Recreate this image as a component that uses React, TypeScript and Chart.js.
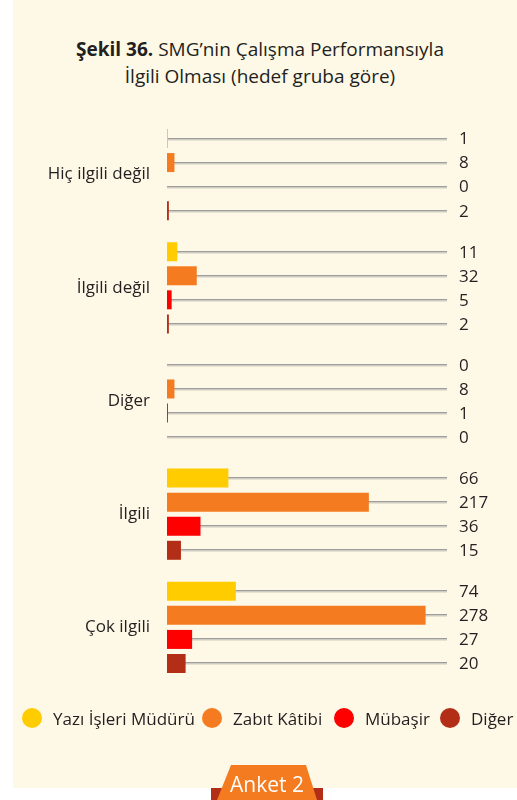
import React, { useEffect, useRef } from "react";
import { Chart, registerables } from "chart.js";

Chart.register(...registerables);

const categories = ["Hiç ilgili değil", "İlgili değil", "Diğer", "İlgili", "Çok ilgili"];
const seriesNames = ["Yazı İşleri Müdürü", "Zabıt Kâtibi", "Mübaşir", "Diğer"];
const yaziIsleri = [1, 11, 0, 66, 74];
const zabitKatibi = [8, 32, 8, 217, 278];
const mubasir = [0, 5, 1, 36, 27];
const diger = [2, 2, 0, 15, 20];
const seriesColors = ["#FFCC00", "#F47B20", "#FF0000", "#B22E17"];
const xMax = 301;

const FONT = "'Open Sans', sans-serif";
const TEXT = "#231F20";

const linesPlugin = {
  id: "guideLines",
  beforeDatasetsDraw(chart: any) {
    const ctx = chart.ctx;
    const xs = chart.scales.x;
    const x0 = xs.getPixelForValue(0);
    const x1 = 447;
    ctx.save();
    chart.data.datasets.forEach((_: any, di: number) => {
      const meta = chart.getDatasetMeta(di);
      meta.data.forEach((el: any) => {
        const y = Math.round(el.y);
        ctx.fillStyle = "#9E9E9E";
        ctx.fillRect(x0, y - 1, x1 - x0, 1.5);
        ctx.fillStyle = "#CFCBC0";
        ctx.fillRect(x0, y + 0.5, x1 - x0, 1);
      });
    });
    ctx.restore();
  },
  afterDatasetsDraw(chart: any) {
    const ctx = chart.ctx;
    ctx.save();
    ctx.font = `17px ${FONT}`;
    ctx.fillStyle = TEXT;
    ctx.textAlign = "left";
    ctx.textBaseline = "middle";
    chart.data.datasets.forEach((ds: any, di: number) => {
      const meta = chart.getDatasetMeta(di);
      meta.data.forEach((el: any, i: number) => {
        ctx.fillText(String(ds.data[i]), 459, el.y + 1);
      });
    });
    ctx.restore();
  },
};

export default function App() {
  const ref = useRef<HTMLCanvasElement>(null);

  useEffect(() => {
    document.body.style.margin = "0";
    if (!ref.current) return;
    const allSeries = [yaziIsleri, zabitKatibi, mubasir, diger];
    const chart = new Chart(ref.current, {
      type: "bar",
      data: {
        labels: categories,
        datasets: allSeries.map((d, i) => ({
          label: seriesNames[i],
          data: d,
          backgroundColor: seriesColors[i],
          borderWidth: 0,
          barPercentage: 0.79,
          categoryPercentage: 0.85,
        })),
      },
      options: {
        indexAxis: "y",
        animation: false,
        responsive: false,
        maintainAspectRatio: false,
        layout: { padding: { left: 0, right: 517 - 447, top: 118, bottom: 116 } },
        plugins: {
          legend: { display: false },
          title: { display: false },
          tooltip: { enabled: false },
        },
        scales: {
          x: { display: false, min: 0, max: xMax },
          y: {
            grid: { display: false, drawTicks: false },
            border: { display: false },
            ticks: {
              color: TEXT,
              font: { family: FONT, size: 17 },
              padding: 17,
            },
            afterFit: (s: any) => {
              s.width = 167;
            },
          },
        },
      },
      plugins: [linesPlugin],
    });
    return () => chart.destroy();
  }, []);

  const legendX = [32, 212, 344, 450];

  return (
    <div style={{ position: "relative", width: 517, height: 800, overflow: "hidden", background: "#fff", fontFamily: FONT }}>
      <div style={{ position: "absolute", left: 13, top: 0, width: 504, height: 788, background: "#FEF8E7" }} />
      <div
        style={{
          position: "absolute",
          left: 0,
          top: 36,
          width: 517,
          textAlign: "center",
          fontSize: 19,
          lineHeight: "27px",
          color: TEXT,
          paddingLeft: 3,
          boxSizing: "border-box",
        }}
      >
        <b>Şekil 36.</b> SMG’nin Çalışma Performansıyla
        <br />
        İlgili Olması (hedef gruba göre)
      </div>
      <canvas ref={ref} width={517} height={800} style={{ position: "absolute", left: 0, top: 0 }} />
      {seriesNames.map((n, i) => (
        <div
          key={n}
          style={{
            position: "absolute",
            left: legendX[i] - 10,
            top: 707,
            height: 22,
            display: "flex",
            alignItems: "center",
            whiteSpace: "nowrap",
            fontSize: 17,
            color: TEXT,
          }}
        >
          <span
            style={{
              display: "inline-block",
              width: 20,
              height: 20,
              borderRadius: 10,
              background: seriesColors[i],
              marginRight: 11,
            }}
          />
          {n}
        </div>
      ))}
      <svg width={517} height={800} style={{ position: "absolute", left: 0, top: 0 }}>
        <rect x={211} y={788} width={112} height={12} fill="#B22E17" />
        <polygon points="231,765 306,765 317,800 217,800" fill="#F47B20" />
        <text x={267} y={792} textAnchor="middle" fill="#fff" fontSize={21} fontFamily="'Open Sans', sans-serif">
          Anket 2
        </text>
      </svg>
    </div>
  );
}
